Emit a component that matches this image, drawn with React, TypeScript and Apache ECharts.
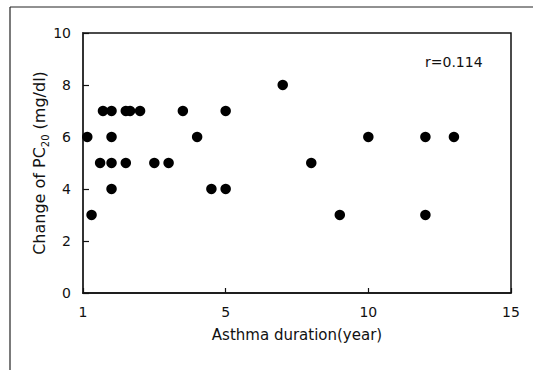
import React, { useEffect, useRef } from "react";
import * as echarts from "echarts";

const durations = [0.15, 0.3, 0.6, 0.7, 1, 1, 1, 1, 1.5, 1.65, 2, 1.5, 2.5, 3, 3.5, 4, 4.5, 5, 5, 7, 8, 9, 10, 12, 12, 13];
const changes = [6, 3, 5, 7, 7, 6, 5, 4, 7, 7, 7, 5, 5, 5, 7, 6, 4, 4, 7, 8, 5, 3, 6, 6, 3, 6];
const xTickLabels = ["1", "5", "10", "15"];
const yTicks = [0, 2, 4, 6, 8, 10];
const annotation = "r=0.114";

export default function App() {
  const ref = useRef<HTMLDivElement>(null);
  useEffect(() => {
    if (!ref.current) return;
    const chart = echarts.init(ref.current, undefined, { renderer: "svg" });
    const font = "DejaVu Sans";
    const points = durations.map((d, i) => [d, changes[i]]);
    chart.setOption({
      animation: false,
      backgroundColor: "#ffffff",
      textStyle: { fontFamily: font },
      grid: { left: 83, top: 33, right: 22, bottom: 77, show: true, borderColor: "#111", borderWidth: 1.5, backgroundColor: "transparent" },
      xAxis: {
        type: "value",
        min: 0,
        max: 15,
        interval: 5,
        splitLine: { show: false },
        axisLine: { show: true, lineStyle: { color: "#111", width: 1.5 } },
        axisTick: { show: true, inside: true, length: 5, lineStyle: { color: "#111", width: 1.2 } },
        axisLabel: {
          margin: 12,
          color: "#111",
          fontSize: 14,
          fontFamily: font,
          formatter: (v: number) => xTickLabels[Math.round(v / 5)] ?? String(v),
        },
        name: "Asthma duration(year)",
        nameLocation: "middle",
        nameGap: 34,
        nameTextStyle: { color: "#111", fontSize: 15, fontFamily: font },
      },
      yAxis: {
        type: "value",
        min: yTicks[0],
        max: yTicks[yTicks.length - 1],
        interval: 2,
        splitLine: { show: false },
        axisLine: { show: true, lineStyle: { color: "#333", width: 2 } },
        axisTick: { show: true, inside: true, length: 6, lineStyle: { color: "#111", width: 1.2 } },
        axisLabel: { margin: 12, color: "#111", fontSize: 14, fontFamily: font },
        name: "Change of PC{sub|20} (mg/dl)",
        nameLocation: "middle",
        nameRotate: 90,
        nameGap: 36,
        nameMoveOverlap: false,
        nameTextStyle: {
          color: "#111",
          fontSize: 16,
          fontFamily: font,
          rich: { sub: { fontSize: 10, verticalAlign: "bottom", padding: [0, 0, -3, 0], color: "#111", fontFamily: font } },
        },
      },
      graphic: [
        { type: "line", shape: { x1: 10, y1: 7, x2: 533, y2: 7 }, style: { stroke: "#222", lineWidth: 1 } },
        { type: "line", shape: { x1: 10, y1: 7, x2: 10, y2: 370 }, style: { stroke: "#222", lineWidth: 1.2 } },
        { type: "text", left: 425, top: 55, style: { text: annotation, fontSize: 14, fontFamily: font, fill: "#111" } },
      ],
      series: [
        {
          type: "scatter",
          data: points,
          symbol: "circle",
          symbolSize: 10.5,
          itemStyle: { color: "#000", opacity: 1 },
        },
      ],
    });
    return () => chart.dispose();
  }, []);
  return <div ref={ref} style={{ position: "fixed", left: 0, top: 0, width: 533, height: 370 }} />;
}
